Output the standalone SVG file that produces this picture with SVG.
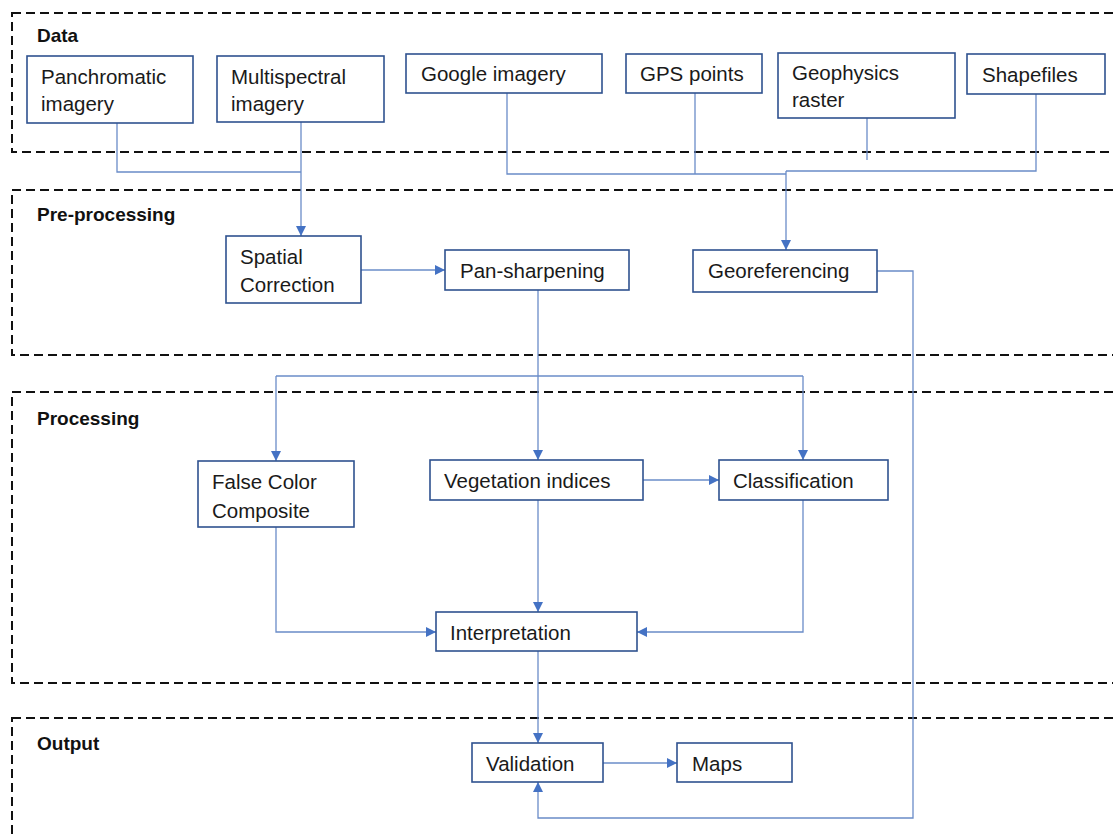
<svg xmlns="http://www.w3.org/2000/svg" width="1113" height="839" viewBox="0 0 1113 839">
<style>
.sec{fill:none;stroke:#111;stroke-width:2;stroke-dasharray:9 5}
.lab{font-family:"Liberation Sans",Arial,sans-serif;font-weight:bold;font-size:19px;fill:#111}
.box{fill:#fff;stroke:#2F528F;stroke-width:1.6}
.t{font-family:"Liberation Sans",Arial,sans-serif;font-size:20.5px;fill:#1a1a1a}
.c{fill:none;stroke:#6A8CC8;stroke-width:1.3}
.ca{fill:none;stroke:#6A8CC8;stroke-width:1.3;marker-end:url(#ah)}
</style>
<defs>
<marker id="ah" markerWidth="10" markerHeight="10" refX="10" refY="5" orient="auto" markerUnits="userSpaceOnUse">
<path d="M0,0 L10,5 L0,10 Z" fill="#4472C4"/>
</marker>
</defs>
<rect width="1113" height="839" fill="#fff"/>
<g id="sections">
<rect class="sec" x="12" y="13" width="1130" height="139"/>
<text class="lab" x="37" y="42">Data</text>
<rect class="sec" x="12" y="190" width="1130" height="165"/>
<text class="lab" x="37" y="221">Pre-processing</text>
<rect class="sec" x="12" y="392" width="1130" height="291"/>
<text class="lab" x="37" y="425">Processing</text>
<rect class="sec" x="12" y="718" width="1130" height="160"/>
<text class="lab" x="37" y="750">Output</text>
</g>
<g id="connectors">
<polyline class="c" points="117,123 117,172 301,172"/>
<polyline class="ca" points="301,122 301,236"/>
<polyline class="c" points="507,93 507,174 786,174"/>
<polyline class="c" points="695,93 695,174"/>
<polyline class="c" points="1036,94 1036,171 786,171"/>
<polyline class="c" points="867,118 867,160"/>
<polyline class="ca" points="786,171 786,250"/>
<polyline class="ca" points="361,270 445,270"/>
<polyline class="ca" points="538,290 538,460"/>
<polyline class="c" points="276,376 803,376"/>
<polyline class="ca" points="276,376 276,461"/>
<polyline class="ca" points="803,376 803,460"/>
<polyline class="ca" points="643,480 719,480"/>
<polyline class="ca" points="538,500 538,612"/>
<polyline class="ca" points="276,527 276,632 436,632"/>
<polyline class="ca" points="803,500 803,632 637,632"/>
<polyline class="ca" points="538,651 538,743"/>
<polyline class="ca" points="603,763 677,763"/>
<polyline class="ca" points="877,271 913,271 913,818 538,818 538,782"/>
</g>
<g id="panchromatic"><rect class="box" x="27" y="56" width="166" height="67"/><text class="t" x="41" y="84">Panchromatic</text><text class="t" x="41" y="111">imagery</text></g>
<g id="multispectral"><rect class="box" x="217" y="56" width="167" height="66"/><text class="t" x="231" y="84">Multispectral</text><text class="t" x="231" y="111">imagery</text></g>
<g id="google"><rect class="box" x="406" y="54" width="196" height="39"/><text class="t" x="421" y="81">Google imagery</text></g>
<g id="gps"><rect class="box" x="626" y="54" width="136" height="39"/><text class="t" x="640" y="81">GPS points</text></g>
<g id="geophysics"><rect class="box" x="778" y="53" width="177" height="65"/><text class="t" x="792" y="80">Geophysics</text><text class="t" x="792" y="107">raster</text></g>
<g id="shapefiles"><rect class="box" x="967" y="54" width="138" height="40"/><text class="t" x="982" y="82">Shapefiles</text></g>
<g id="spatial"><rect class="box" x="226" y="236" width="135" height="67"/><text class="t" x="240" y="264">Spatial</text><text class="t" x="240" y="292">Correction</text></g>
<g id="pansharp"><rect class="box" x="445" y="250" width="184" height="40"/><text class="t" x="460" y="278">Pan-sharpening</text></g>
<g id="georef"><rect class="box" x="693" y="250" width="184" height="42"/><text class="t" x="708" y="278">Georeferencing</text></g>
<g id="falsecolor"><rect class="box" x="198" y="461" width="156" height="66"/><text class="t" x="212" y="489">False Color</text><text class="t" x="212" y="518">Composite</text></g>
<g id="vegetation"><rect class="box" x="430" y="460" width="213" height="40"/><text class="t" x="444" y="488">Vegetation indices</text></g>
<g id="classification"><rect class="box" x="719" y="460" width="169" height="40"/><text class="t" x="733" y="488">Classification</text></g>
<g id="interpretation"><rect class="box" x="436" y="612" width="201" height="39"/><text class="t" x="450" y="640">Interpretation</text></g>
<g id="validation"><rect class="box" x="472" y="743" width="131" height="39"/><text class="t" x="486" y="771">Validation</text></g>
<g id="maps"><rect class="box" x="677" y="743" width="115" height="39"/><text class="t" x="692" y="771">Maps</text></g>
</svg>
